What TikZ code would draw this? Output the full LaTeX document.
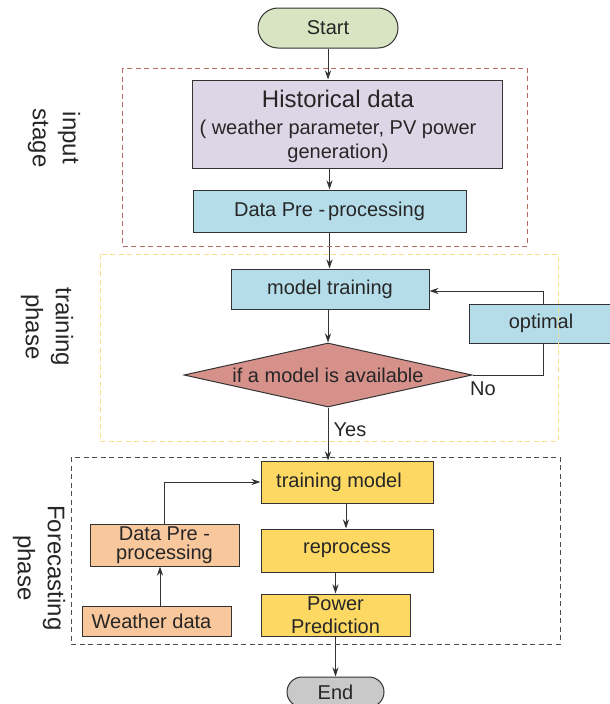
\documentclass[tikz,border=0pt]{standalone}
\usepackage{fontspec}
\setmainfont{Liberation Sans}
\usetikzlibrary{shapes.geometric,arrows.meta}

\definecolor{startfill}{HTML}{D9E5C2}
\definecolor{histfill}{HTML}{DDD6E6}
\definecolor{bluefill}{HTML}{B5DDE9}
\definecolor{decfill}{HTML}{D6918B}
\definecolor{yelfill}{HTML}{FDD964}
\definecolor{orfill}{HTML}{F8C79C}
\definecolor{endfill}{HTML}{C9C9C9}
\definecolor{edge}{HTML}{333333}
\definecolor{inframe}{HTML}{BA6A62}
\definecolor{trframe}{HTML}{F6DE8C}
\definecolor{fcframe}{HTML}{4D4D4D}

\pgfdeclarelayer{links}
\pgfsetlayers{links,main}

\tikzset{
  txt/.style={text=black!85, font=\fontsize{20}{23}\selectfont, align=center},
  base/.style={txt, draw=edge, line width=1pt, inner sep=2pt},
  procbox/.style={base, rectangle},
  termbox/.style={base, rectangle, rounded corners=15pt},
  decbox/.style={base, diamond, aspect=4.5, inner sep=0pt},
  link/.style={draw=edge, line width=1pt},
  arr/.style={link, -{Stealth[length=9pt,width=6pt]}},
  frame/.style={line width=0.9pt, dash pattern=on 5pt off 3.5pt},
  stagelabel/.style={rotate=-90, align=center,
    font=\fontsize{24}{30}\selectfont, text=black!85}
}

\begin{document}
\begin{tikzpicture}[x=1pt,y=-1pt]
\useasboundingbox (0,0) rectangle (610,704);
\clip (0,0) rectangle (610,704);

% start / end terminals
\node[termbox, rounded corners=20pt, fill=startfill, minimum width=140pt, minimum height=40pt] (start) at (328,28) {Start};
\node[termbox, fill=endfill, minimum width=97pt, minimum height=30pt] (finish) at (335.5,692) {End};

% input stage
\node[procbox, fill=histfill, minimum width=310pt, minimum height=88pt] (hist) at (347,124) {};
\node[txt, font=\fontsize{20}{23.5}\selectfont] (histtext) at ([xshift=-9pt,yshift=-2pt]hist.center)
  {{\fontsize{24}{26}\selectfont Historical data}\\[4pt]( weather parameter, PV power\\generation)};
\node[procbox, fill=bluefill, minimum width=273pt, minimum height=42pt] (prep) at (329.5,211) {Data Pre -\kern3pt processing};

% training phase
\node[procbox, fill=bluefill, minimum width=198pt, minimum height=40pt] (train) at (330,289) {model training};
\node[procbox, fill=bluefill, minimum width=144pt, minimum height=39pt] (opt) at (541,323.5) {optimal};
\node[decbox, fill=decfill, minimum width=288pt, minimum height=64pt] (avail) at (328,375) {if a model is available};
\node[txt] (no) at (483,389) {No};
\node[txt] (yes) at (350,430) {Yes};

% forecasting phase
\node[procbox, fill=yelfill, minimum width=172pt, minimum height=42pt] (tmodel) at (347,482) {};
\node[txt] (tmtext) at ([xshift=-8pt]tmodel.center) {training model};
\node[procbox, fill=yelfill, minimum width=172pt, minimum height=43pt] (repro) at (347,550.5) {reprocess};
\node[procbox, fill=yelfill, minimum width=149pt, minimum height=42pt, font=\fontsize{20}{23}\selectfont] (pred) at (335.5,615) {Power\\Prediction};
\node[procbox, fill=orfill, minimum width=149pt, minimum height=42pt, font=\fontsize{20}{19}\selectfont] (wprep) at (164.5,545) {Data Pre -\\processing};
\node[procbox, fill=orfill, minimum width=149pt, minimum height=30pt] (weather) at (156.5,621) {};
\node[txt] (wtext) at ([xshift=-5pt]weather.center) {Weather data};

% connectors, kept behind the boxes
\begin{pgfonlayer}{links}
\draw[arr] (start.south) -- (start.south |- hist.north);
\draw[arr] (hist.south -| prep.north) -- (prep.north);
\draw[arr] (prep.south) -- (prep.south |- train.north);
\draw[arr] (train.south -| avail.north) -- (avail.north);
\draw[arr] (avail.south) -- (avail.south |- tmodel.north);
\draw[link] (avail.east) -| ([xshift=2pt]opt.south);
\draw[arr] ([xshift=2pt]opt.north) |- ([yshift=-2pt]train.east);
\draw[arr] ([xshift=-1pt]tmodel.south) -- ([xshift=-1pt]repro.north);
\draw[arr] (repro.south -| pred.north) -- (pred.north);
\draw[arr] (pred.south) -- (pred.south |- finish.north);
\draw[arr] ([xshift=3.5pt]weather.north) -- ([xshift=3.5pt]weather.north |- wprep.south);
\draw[arr] (wprep.north) |- (tmodel.west);
\end{pgfonlayer}

% stage frames
\draw[frame, draw=inframe] (122,68) rectangle (527,246);
\draw[frame, draw=trframe] (100,254) rectangle (558,441);
\draw[frame, draw=fcframe] (71,457) rectangle (560,644);

% stage labels
\node[stagelabel] (lblin) at (54,138) {input\\stage};
\node[stagelabel] (lbltr) at (47,327) {training\\phase};
\node[stagelabel] (lblfc) at (39,568) {Forecasting\\phase};
\end{tikzpicture}
\end{document}
